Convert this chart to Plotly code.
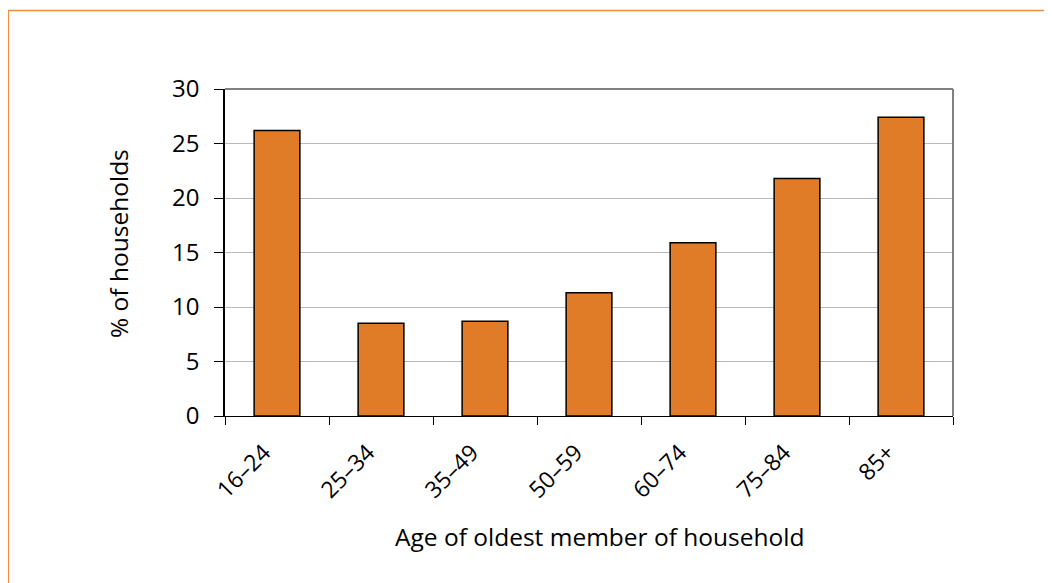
import plotly.graph_objects as go

categories = ["16–24", "25–34", "35–49", "50–59", "60–74", "75–84", "85+"]
values = [26.2, 8.5, 8.7, 11.3, 15.9, 21.8, 27.4]
y_ticks = [0, 5, 10, 15, 20, 25, 30]

FONT = "Open Sans"

fig = go.Figure(go.Bar(
    x=categories, y=values,
    marker=dict(color="#E07B28", line=dict(color="#000000", width=1.5)),
    width=0.44,
))

# page body has an 8px margin, so figure coords = page coords - 8
OFF = 8
W, H = 1052 - OFF, 583 - OFF
L, T = 225 - OFF, 89 - OFF
R = W - (953 - OFF)
B = H - (416 - OFF)
pw, ph = W - L - R, H - T - B

def px_x(p):
    return (p - OFF - L) / pw

def px_y(p):
    return (H - B - (p - OFF)) / ph

fig.update_layout(
    width=W, height=H,
    margin=dict(l=L, r=R, t=T, b=B),
    paper_bgcolor="white", plot_bgcolor="white",
    showlegend=False,
    font=dict(family=FONT, color="#000000"),
    xaxis=dict(
        type="category", tickson="boundaries",
        ticks="outside", ticklen=8, tickcolor="#000000",
        showline=True, linecolor="#000000", linewidth=1,
        tickangle=-45, tickfont=dict(size=23, family=FONT),
        ticklabelstandoff=13, ticklabelshift=-13,
        showgrid=False,
    ),
    yaxis=dict(
        range=[0, 30], tickvals=y_ticks,
        ticks="outside", ticklen=9, tickcolor="#000000",
        showline=True, linecolor="#000000", linewidth=1.5,
        showgrid=True, gridcolor="#BBBBBB", gridwidth=1,
        tickfont=dict(size=24, family=FONT),
        ticklabelstandoff=10,
        zeroline=False,
    ),
    shapes=[
        dict(type="line", xref="paper", yref="paper", x0=0, x1=1, y0=1, y1=1,
             line=dict(color="#808080", width=2)),
        dict(type="line", xref="paper", yref="paper", x0=1, x1=1, y0=0, y1=1,
             line=dict(color="#808080", width=2)),
        dict(type="rect", xref="paper", yref="paper",
             x0=px_x(8.5), x1=px_x(1051.5), y0=px_y(600), y1=px_y(10.5),
             line=dict(color="#EE8E3E", width=1.3), layer="below"),
    ],
    annotations=[
        dict(text="Age of oldest member of household", xref="paper", yref="paper",
             x=px_x(599), y=px_y(536), showarrow=False,
             font=dict(size=24.5, family=FONT), xanchor="center", yanchor="middle"),
        dict(text="% of households", xref="paper", yref="paper",
             x=px_x(118), y=px_y(244), showarrow=False, textangle=-90,
             font=dict(size=24.5, family=FONT), xanchor="center", yanchor="middle"),
    ],
)

fig.write_html("out.html")
